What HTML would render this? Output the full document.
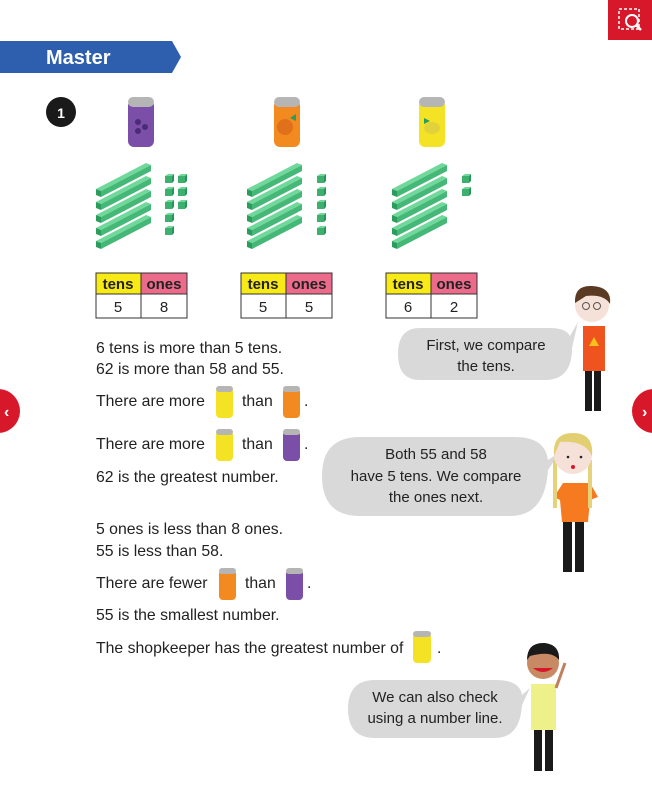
<!DOCTYPE html>
<html><head><meta charset="utf-8"><style>
body{margin:0;background:#fff;width:652px;height:797px;overflow:hidden}
svg{display:block}
text{font-family:"Liberation Sans",sans-serif}
.t{font-size:15.8px;fill:#222}
.b{font-size:15px;fill:#222;text-anchor:middle}
</style></head><body>
<svg width="652" height="797" viewBox="0 0 652 797">
<defs>
<g id="rod"><polygon points="96,189 146,163 151,165 101,191" fill="#6fd89a"/><polygon points="96,189 101,191 101,197 96,195" fill="#2a9d5c"/><polygon points="101,191 151,165 151,171 101,197" fill="#45b878"/></g>
<g id="cube"><rect x="0" y="0" width="7" height="7" fill="#3db070"/><polygon points="0,0 3,-2 9,-2 7,0" fill="#6fd89a"/><polygon points="7,0 9,-2 9,5 7,7" fill="#26955a"/></g>
</defs>
<rect x="608" y="0" width="44" height="40" fill="#d7182a"/>
<rect x="619" y="9" width="20" height="20" fill="none" stroke="#fff" stroke-width="1.5" stroke-dasharray="3,2"/>
<circle cx="632" cy="21" r="6" fill="none" stroke="#fff" stroke-width="2"/><line x1="636" y1="25" x2="641" y2="30" stroke="#fff" stroke-width="2.5"/>
<polygon points="0,41 172,41 181,57 172,73 0,73" fill="#2e5fae"/>
<text x="46" y="64" style="font-size:20px;font-weight:bold;fill:#fff">Master</text>
<circle cx="61" cy="112" r="15" fill="#1a1a1a"/><text x="61" y="118" text-anchor="middle" style="font-size:14px;font-weight:bold;fill:#fff">1</text>
<g><rect x="128" y="100" width="26" height="47" rx="6" fill="#7b4fa8"/><rect x="128" y="97" width="26" height="10" rx="5" fill="#b5b5b5"/><circle cx="138" cy="122" r="3" fill="#4b2a78"/><circle cx="145" cy="127" r="3" fill="#4b2a78"/><circle cx="138" cy="131" r="3" fill="#4b2a78"/></g>
<rect x="274" y="100" width="26" height="47" rx="6" fill="#f28a1f"/><rect x="274" y="97" width="26" height="10" rx="5" fill="#b5b5b5"/><circle cx="285" cy="127" r="8" fill="#e0701a"/><polygon points="290,118 296,114 296,121" fill="#2a9d5c"/>
<rect x="419" y="100" width="26" height="47" rx="6" fill="#f3e324"/><rect x="419" y="97" width="26" height="10" rx="5" fill="#b5b5b5"/><ellipse cx="432" cy="128" rx="8" ry="6" fill="#e2d13a"/><polygon points="424,118 430,121 424,124" fill="#2a9d5c"/>
<g><use href="#rod"/><use href="#rod" y="13"/><use href="#rod" y="26"/><use href="#rod" y="39"/><use href="#rod" y="52"/></g>
<g transform="translate(151,0)"><use href="#rod"/><use href="#rod" y="13"/><use href="#rod" y="26"/><use href="#rod" y="39"/><use href="#rod" y="52"/></g>
<g transform="translate(296,0)"><use href="#rod"/><use href="#rod" y="13"/><use href="#rod" y="26"/><use href="#rod" y="39"/><use href="#rod" y="52"/></g>
<use href="#cube" x="165" y="176"/><use href="#cube" x="178" y="176"/><use href="#cube" x="165" y="189"/><use href="#cube" x="178" y="189"/><use href="#cube" x="165" y="202"/><use href="#cube" x="178" y="202"/><use href="#cube" x="165" y="215"/><use href="#cube" x="165" y="228"/>
<use href="#cube" x="317" y="176"/><use href="#cube" x="317" y="189"/><use href="#cube" x="317" y="202"/><use href="#cube" x="317" y="215"/><use href="#cube" x="317" y="228"/>
<use href="#cube" x="462" y="176"/><use href="#cube" x="462" y="189"/>
<g id="tb" stroke="#333" stroke-width="1">
<rect x="96" y="273" width="45" height="21" fill="#f7ea16"/><rect x="141" y="273" width="46" height="21" fill="#ec6a8a"/>
<rect x="96" y="294" width="91" height="24" fill="#fff"/><line x1="141" y1="294" x2="141" y2="318"/></g>
<text x="118" y="289" class="b" style="font-weight:bold">tens</text><text x="164" y="289" class="b" style="font-weight:bold">ones</text>
<text x="118" y="312" class="b">5</text><text x="164" y="312" class="b">8</text>
<use href="#tb" x="145"/><text x="263" y="289" class="b" style="font-weight:bold">tens</text><text x="309" y="289" class="b" style="font-weight:bold">ones</text>
<text x="263" y="312" class="b">5</text><text x="309" y="312" class="b">5</text>
<use href="#tb" x="290"/><text x="408" y="289" class="b" style="font-weight:bold">tens</text><text x="454" y="289" class="b" style="font-weight:bold">ones</text>
<text x="408" y="312" class="b">6</text><text x="454" y="312" class="b">2</text>
<text x="96" y="353" class="t">6 tens is more than 5 tens.</text>
<text x="96" y="374" class="t">62 is more than 58 and 55.</text>
<text x="96" y="406" class="t">There are more</text><text x="242" y="406" class="t">than</text><text x="304" y="406" class="t">.</text>
<text x="96" y="449" class="t">There are more</text><text x="242" y="449" class="t">than</text><text x="304" y="449" class="t">.</text>
<text x="96" y="482" class="t">62 is the greatest number.</text>
<text x="96" y="534" class="t">5 ones is less than 8 ones.</text>
<text x="96" y="556" class="t">55 is less than 58.</text>
<text x="96" y="588" class="t">There are fewer</text><text x="245" y="588" class="t">than</text><text x="307" y="588" class="t">.</text>
<text x="96" y="620" class="t">55 is the smallest number.</text>
<text x="96" y="653" class="t">The shopkeeper has the greatest number of</text><text x="437" y="653" class="t">.</text>
<g fill="#f3e324"><rect x="216" y="388" width="17" height="30" rx="4"/><rect x="216" y="431" width="17" height="30" rx="4"/><rect x="413" y="633" width="18" height="30" rx="4"/></g>
<g fill="#f28a1f"><rect x="283" y="388" width="17" height="30" rx="4"/><rect x="219" y="570" width="17" height="30" rx="4"/></g>
<g fill="#7b4fa8"><rect x="283" y="431" width="17" height="30" rx="4"/><rect x="286" y="570" width="17" height="30" rx="4"/></g>
<g fill="#b5b5b5"><rect x="216" y="386" width="17" height="6" rx="3"/><rect x="216" y="429" width="17" height="6" rx="3"/><rect x="413" y="631" width="18" height="6" rx="3"/><rect x="283" y="386" width="17" height="6" rx="3"/><rect x="219" y="568" width="17" height="6" rx="3"/><rect x="283" y="429" width="17" height="6" rx="3"/><rect x="286" y="568" width="17" height="6" rx="3"/></g>
<circle cx="-2" cy="411" r="22" fill="#d7182a"/><text x="4" y="417" style="font-size:16px;fill:#fff;font-weight:bold">‹</text>
<circle cx="654" cy="411" r="22" fill="#d7182a"/><text x="642" y="417" style="font-size:16px;fill:#fff;font-weight:bold">›</text>
<path d="M420,328 H550 Q566,328 570,336 L578,322 L572,348 Q572,380 545,380 H420 Q398,380 398,354 Q398,328 420,328 Z" fill="#d9d9d9"/>
<text x="486" y="350" class="b">First, we compare</text><text x="486" y="371" class="b">the tens.</text>
<path d="M360,437 H515 Q545,437 548,460 L560,452 L548,470 Q545,516 510,516 H360 Q322,516 322,476 Q322,437 360,437 Z" fill="#d9d9d9"/>
<text x="436" y="459" class="b">Both 55 and 58</text><text x="436" y="481" class="b">have 5 tens. We compare</text><text x="436" y="502" class="b">the ones next.</text>
<path d="M375,680 H495 Q520,680 522,695 L530,688 L522,705 Q520,738 495,738 H375 Q348,738 348,709 Q348,680 375,680 Z" fill="#d9d9d9"/>
<text x="435" y="702" class="b">We can also check</text><text x="435" y="723" class="b">using a number line.</text>
<rect x="585" y="368" width="7" height="43" fill="#1a1a1a"/><rect x="594" y="368" width="7" height="43" fill="#1a1a1a"/>
<rect x="583" y="326" width="22" height="45" fill="#f0541e"/><polygon points="594,337 599,346 589,346" fill="#f7c21a"/>
<circle cx="592" cy="305" r="17" fill="#f5e1d7"/><path d="M575,303 Q574,285 592,286 Q612,287 610,304 Q604,294 586,296 Z" fill="#5a3a22"/>
<circle cx="586" cy="306" r="3.5" fill="none" stroke="#555"/><circle cx="597" cy="306" r="3.5" fill="none" stroke="#555"/>
<rect x="563" y="520" width="9" height="52" fill="#1a1a1a"/><rect x="575" y="520" width="9" height="52" fill="#1a1a1a"/>
<polygon points="563,483 590,483 598,497 590,500 588,522 562,522 560,500 554,497" fill="#f57a20"/>
<rect x="553" y="460" width="4" height="48" fill="#e6d27a"/><rect x="588" y="460" width="4" height="48" fill="#e6d27a"/>
<circle cx="573" cy="455" r="19" fill="#f5e1d7"/><path d="M554,456 Q552,433 573,433 Q594,433 592,456 Q585,440 560,442 Z" fill="#e2cf72"/>
<circle cx="568" cy="457" r="1.3" fill="#222"/><circle cx="581" cy="457" r="1.3" fill="#222"/><circle cx="573" cy="467" r="2" fill="#d7182a"/>
<rect x="534" y="727" width="8" height="44" fill="#1a1a1a"/><rect x="545" y="727" width="8" height="44" fill="#1a1a1a"/>
<rect x="531" y="684" width="25" height="46" fill="#eef08a"/><line x1="556" y1="688" x2="565" y2="663" stroke="#c08060" stroke-width="3"/>
<circle cx="543" cy="663" r="16" fill="#c88a64"/><path d="M527,660 Q527,642 545,643 Q560,645 559,660 Q552,650 530,656 Z" fill="#1a1a1a"/>
<path d="M533,668 Q543,676 553,668 Z" fill="#d7182a"/>
</svg>
</body></html>
